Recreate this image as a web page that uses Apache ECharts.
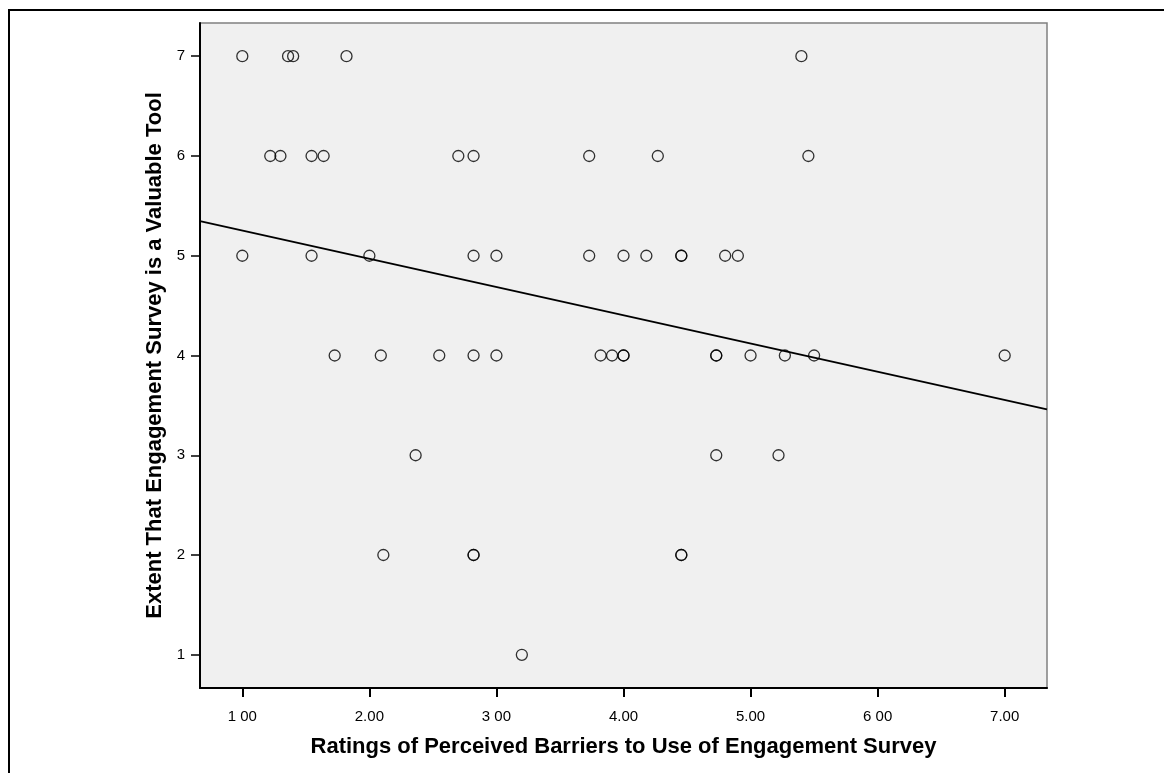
<!DOCTYPE html>
<html>
<head>
<meta charset="utf-8">
<script src="https://cdn.jsdelivr.net/npm/echarts@6/dist/echarts.min.js"></script>
<style>
  html, body { margin: 0; padding: 0; background: #fff; }
  #chart { width: 1164px; height: 773px; }
</style>
</head>
<body>
<div id="chart"></div>
<script>
// barrier ratings (x) and value ratings (y), one entry per respondent
var barrierRatings = [
  1.00, 1.36, 1.40, 1.82, 5.40,
  1.22, 1.30, 1.545, 1.64, 2.70, 2.82, 3.73, 4.27, 5.455,
  1.00, 1.545, 2.00, 2.82, 3.00, 3.73, 4.00, 4.18, 4.455, 4.455, 4.80, 4.90,
  1.727, 2.09, 2.55, 2.82, 3.00, 3.82, 3.91, 4.00, 4.00, 4.73, 4.73, 5.00, 5.27, 5.50, 7.00,
  2.364, 4.73, 5.22,
  2.11, 2.82, 2.82, 4.455, 4.455,
  3.20
]
var valueRatings = [
  7, 7, 7, 7, 7,
  6, 6, 6, 6, 6, 6, 6, 6, 6,
  5, 5, 5, 5, 5, 5, 5, 5, 5, 5, 5, 5,
  4, 4, 4, 4, 4, 4, 4, 4, 4, 4, 4, 4, 4, 4, 4,
  3, 3, 3,
  2, 2, 2, 2, 2,
  1
]
// fit line, read at the two plot edges
var fitX = [0.667, 7.333]
var fitY = [5.347, 3.46]
// x tick labels as printed
var xTickLabels = {1: '1 00', 2: '2.00', 3: '3 00', 4: '4.00', 5: '5.00', 6: '6 00', 7: '7.00'}

var points = barrierRatings.map(function (x, i) { return [x, valueRatings[i]] })
var fitLine = fitX.map(function (x, i) { return [x, fitY[i]] })

var chart = echarts.init(document.getElementById('chart'))
chart.setOption({
  backgroundColor: '#fff',
  animation: false,
  textStyle: { fontFamily: 'Liberation Sans, Arial, sans-serif' },
  graphic: [
    {
      // outer frame, only top and left edges show
      type: 'rect',
      shape: { x: 9, y: 10, width: 1300, height: 900 },
      style: { fill: 'none', stroke: '#000', lineWidth: 2 },
      silent: true
    }
  ],
  grid: {
    left: 200,
    right: 117,
    top: 23,
    bottom: 85,
    show: true,
    backgroundColor: '#F0F0F0',
    borderColor: '#808080',
    borderWidth: 1.5,
    outerBoundsMode: 'none'
  },
  xAxis: {
    type: 'value',
    min: 0.667,
    max: 7.333,
    name: 'Ratings of Perceived Barriers to Use of Engagement Survey',
    nameLocation: 'middle',
    nameGap: 48,
    nameTextStyle: { fontSize: 22, fontWeight: 'bold', color: '#000' },
    splitLine: { show: false },
    axisLine: { onZero: false, lineStyle: { color: '#000', width: 2 } },
    axisTick: { length: 9, lineStyle: { color: '#000', width: 2 }, customValues: [1, 2, 3, 4, 5, 6, 7] },
    axisLabel: {
      color: '#000',
      fontSize: 15,
      margin: 21,
      customValues: [1, 2, 3, 4, 5, 6, 7],
      formatter: function (v) { return xTickLabels[Math.round(v)] || '' }
    }
  },
  yAxis: {
    type: 'value',
    min: 0.667,
    max: 7.333,
    name: 'Extent That Engagement Survey is a Valuable Tool',
    nameLocation: 'middle',
    nameGap: 32,
    nameTextStyle: { fontSize: 22, fontWeight: 'bold', color: '#000' },
    splitLine: { show: false },
    axisLine: { onZero: false, lineStyle: { color: '#000', width: 2 } },
    axisTick: { length: 9, lineStyle: { color: '#000', width: 1.5 }, customValues: [1, 2, 3, 4, 5, 6, 7] },
    axisLabel: {
      color: '#000',
      fontSize: 15,
      margin: 15,
      customValues: [1, 2, 3, 4, 5, 6, 7]
    }
  },
  series: [
    {
      type: 'line',
      data: fitLine,
      symbol: 'none',
      lineStyle: { color: '#000', width: 2 },
      z: 2
    },
    {
      type: 'scatter',
      data: points,
      symbol: 'circle',
      symbolSize: 11,
      itemStyle: { color: 'rgba(0,0,0,0)', borderColor: '#000', borderWidth: 1.3 },
      z: 3
    }
  ]
})
</script>
</body>
</html>
